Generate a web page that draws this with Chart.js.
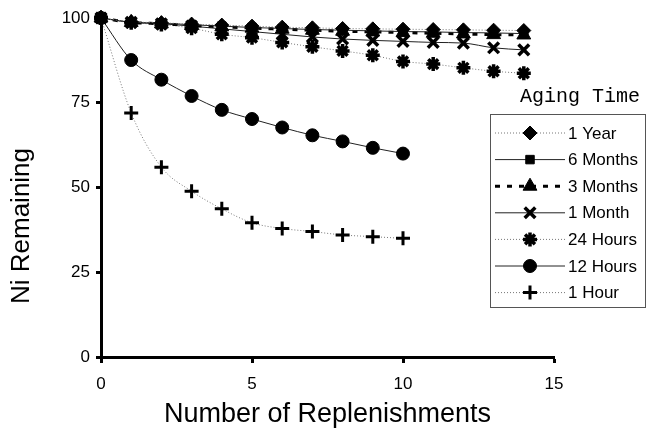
<!DOCTYPE html>
<html>
<head>
<meta charset="utf-8">
<script src="https://cdn.jsdelivr.net/npm/chart.js@4.4.1/dist/chart.umd.min.js"></script>
<style>
  html, body { margin: 0; padding: 0; background: #fff; }
  #box { width: 646px; height: 431px; }
</style>
</head>
<body>
<div id="box"><canvas id="grafico"></canvas></div>
<script>
// valori
const replenishments = [0, 1, 2, 3, 4, 5, 6, 7, 8, 9, 10, 11, 12, 13, 14]
const oneYear     = [100, 98.9, 98.6, 98.2, 97.9, 97.6, 97.3, 97.1, 96.9, 96.8, 96.7, 96.6, 96.5, 96.4, 96.3]
const sixMonths   = [100, 98.8, 98.5, 98.0, 97.6, 97.2, 96.9, 96.6, 96.4, 96.2, 96.0, 95.9, 95.7, 95.6, 95.4]
const threeMonths = [100, 98.7, 98.3, 97.8, 97.4, 97.0, 96.7, 96.4, 96.1, 95.9, 95.7, 95.5, 95.3, 95.1, 95.0]
const oneMonth    = [100, 98.7, 98.3, 97.6, 96.8, 96.0, 95.2, 94.4, 93.8, 93.4, 93.1, 92.8, 92.6, 91.2, 90.6]
const hours24     = [100, 98.6, 98.1, 97.0, 95.2, 94.2, 92.8, 91.5, 90.3, 89.0, 87.2, 86.4, 85.3, 84.3, 83.7]
const hours12     = [100, 87.6, 81.8, 77.0, 72.9, 70.2, 67.7, 65.4, 63.6, 61.7, 60.0]
const oneHour     = [100, 72.0, 56.0, 48.9, 43.7, 39.6, 37.9, 37.0, 36.0, 35.5, 35.0]

const seriesNames = ['1 Year', '6 Months', '3 Months', '1 Month', '24 Hours', '12 Hours', '1 Hour']
const seriesValues = [oneYear, sixMonths, threeMonths, oneMonth, hours24, hours12, oneHour]

const xTicks = [0, 5, 10, 15]
const yTicks = [0, 25, 50, 75, 100]

// stile di ogni serie
const stili = [
  {line: '#777', width: 1, dash: [1, 2], point: 'rectRot', r: 7, bw: 1},
  {line: '#222', width: 1, dash: [], point: 'rect', r: 6, bw: 1},
  {line: '#000', width: 3, dash: [5, 7], point: 'triangle', r: 8, bw: 1},
  {line: '#222', width: 1, dash: [], point: 'crossRot', r: 7.5, bw: 3.5},
  {line: '#777', width: 1, dash: [1, 2], point: 'star', r: 7, bw: 3.5},
  {line: '#222', width: 1, dash: [], point: 'circle', r: 6.5, bw: 1},
  {line: '#777', width: 1, dash: [1, 2], point: 'cross', r: 7, bw: 3}
]

const datasets = seriesNames.map((nome, i) => ({
  label: nome,
  data: seriesValues[i].map((v, j) => ({x: replenishments[j], y: v})),
  borderColor: stili[i].line,
  borderWidth: stili[i].width,
  borderDash: stili[i].dash,
  pointStyle: stili[i].point,
  pointRadius: stili[i].r,
  pointBorderWidth: stili[i].bw,
  pointBackgroundColor: '#000',
  pointBorderColor: '#000',
  cubicInterpolationMode: 'monotone',
  clip: false
}))

// legenda disegnata a mano (sta sopra l'area del grafico)
const legendaPlugin = {
  id: 'legenda',
  afterDraw(chart) {
    const ctx = chart.ctx
    ctx.save()
    ctx.fillStyle = '#fff'
    ctx.fillRect(490, 114, 155, 193)
    ctx.strokeStyle = '#555'
    ctx.lineWidth = 1
    ctx.strokeRect(490.5, 114.5, 155, 193)

    ctx.fillStyle = '#000'
    ctx.font = '20px "Liberation Mono"'
    ctx.textAlign = 'center'
    ctx.textBaseline = 'middle'
    ctx.fillText('Aging Time', 580, 97)

    chart.data.datasets.forEach((ds, i) => {
      const y = 133 + i * 26.6
      ctx.beginPath()
      ctx.strokeStyle = ds.borderColor
      ctx.lineWidth = ds.borderWidth
      ctx.setLineDash(ds.borderDash)
      ctx.moveTo(495, y)
      ctx.lineTo(565, y)
      ctx.stroke()
      ctx.setLineDash([])
      ctx.fillStyle = '#000'
      ctx.strokeStyle = '#000'
      ctx.lineWidth = ds.pointBorderWidth
      Chart.helpers.drawPoint(ctx, {pointStyle: ds.pointStyle, radius: ds.pointRadius, rotation: 0, borderWidth: ds.pointBorderWidth}, 530, y)
      ctx.font = '17px "Liberation Sans"'
      ctx.textAlign = 'left'
      ctx.fillText(ds.label, 568, y + 1)
    })

    // titolo asse y
    ctx.translate(22, 226)
    ctx.rotate(-Math.PI / 2)
    ctx.font = '26px "Liberation Sans"'
    ctx.textAlign = 'center'
    ctx.fillText('Ni Remaining', 0, 0)
    ctx.restore()
  }
}

new Chart(document.querySelector('#grafico'), {
  type: 'line',
  data: {datasets: datasets},
  plugins: [legendaPlugin],
  options: {
    responsive: true,
    maintainAspectRatio: false,
    animation: false,
    layout: {padding: {top: 18, right: 92, left: 0, bottom: 0}},
    plugins: {legend: {display: false}, tooltip: {enabled: false}},
    scales: {
      x: {
        type: 'linear',
        min: 0, max: 15,
        afterBuildTicks: s => { s.ticks = xTicks.map(v => ({value: v})) },
        afterFit: s => { s.height = 74 },
        border: {display: true, color: '#000', width: 3},
        grid: {drawOnChartArea: false, drawTicks: true, tickLength: 6, tickWidth: 3, tickColor: '#000'},
        ticks: {color: '#000', padding: 11, font: {family: 'Liberation Sans', size: 17}, maxRotation: 0},
        title: {display: true, text: 'Number of Replenishments', color: '#000',
                font: {family: 'Liberation Sans', size: 27}, padding: {top: 0, bottom: 0}}
      },
      y: {
        min: 0, max: 100,
        afterBuildTicks: s => { s.ticks = yTicks.map(v => ({value: v})) },
        afterFit: s => { s.width = 101 },
        border: {display: true, color: '#000', width: 3},
        grid: {drawOnChartArea: false, drawTicks: true, tickLength: 5, tickWidth: 3, tickColor: '#000'},
        ticks: {color: '#000', padding: 6, font: {family: 'Liberation Sans', size: 17}}
      }
    }
  }
})
</script>
</body>
</html>
